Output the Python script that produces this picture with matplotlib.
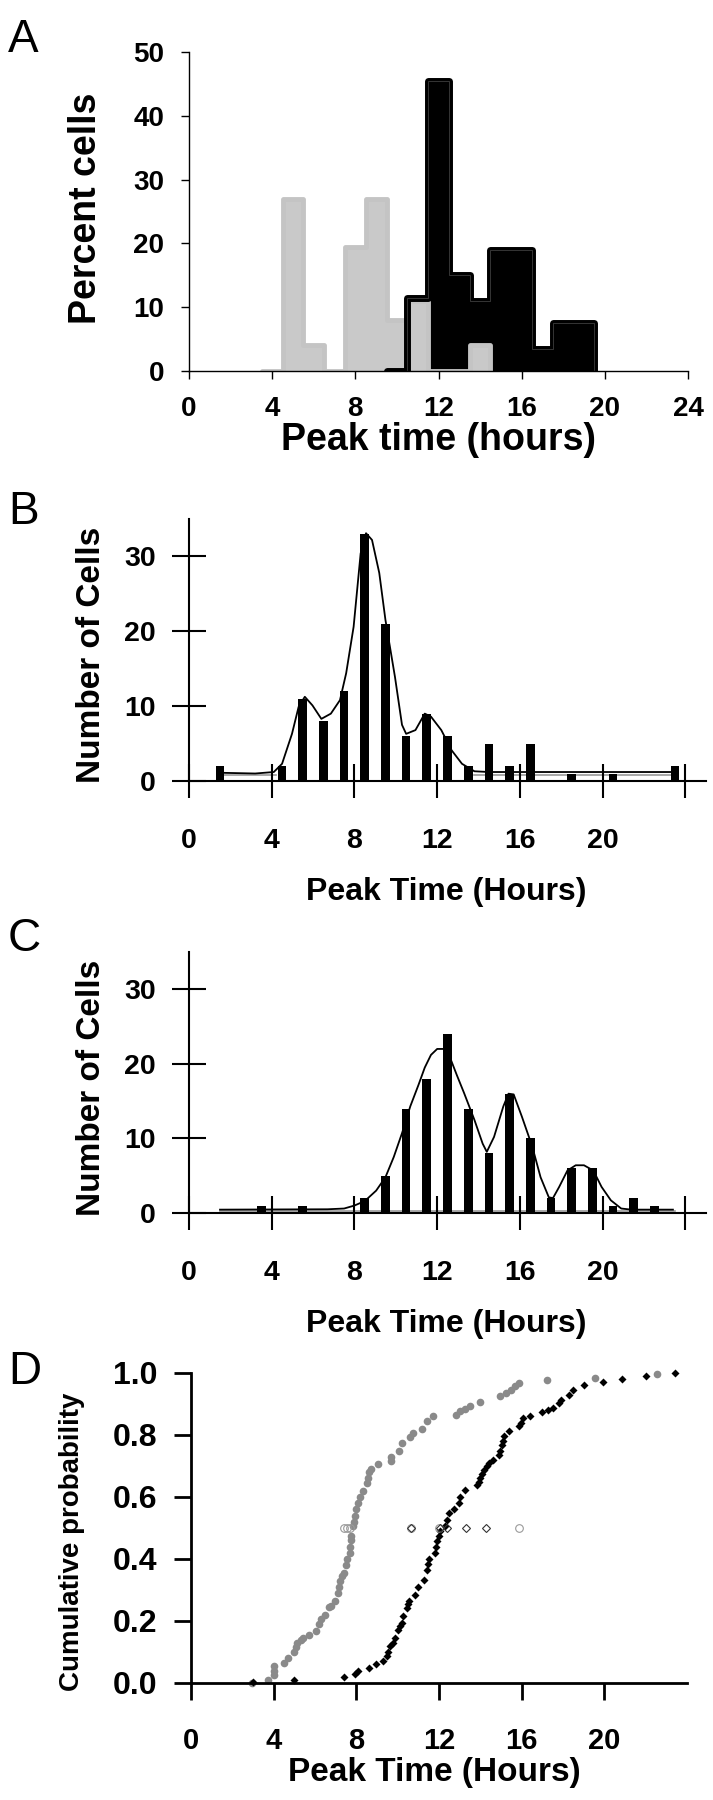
import numpy as np
import matplotlib
matplotlib.use("Agg")
import matplotlib.pyplot as plt

plt.rcParams['font.family'] = ['Liberation Sans', 'DejaVu Sans']
plt.rcParams['font.weight'] = 'bold'
plt.rcParams['axes.labelweight'] = 'bold'

# ---- panel A: percent of cells per 1 h bin ----
gray_edges = [3.5, 4.5, 5.5, 6.5, 7.5, 8.5, 9.5, 10.5, 11.5, 12.5, 13.5, 14.5]
gray_pct = [0, 27, 4, 0, 19.5, 27, 8, 11, 0, 0, 4]
black_edges = [9.5, 10.5, 11.5, 12.5, 13.5, 14.5, 15.5, 16.5, 17.5, 18.5, 19.5]
black_pct = [0, 11.5, 45.5, 15, 11, 19, 19, 3.5, 7.5, 7.5]

# ---- panel B: counts and fitted curve ----
b_pos = [1.5, 4.5, 5.5, 6.5, 7.5, 8.5, 9.5, 10.5, 11.5, 12.5, 13.5, 14.5, 15.5, 16.5, 18.5, 20.5, 23.5]
b_cnt = [2, 2, 11, 8, 12, 33, 21, 6, 9, 6, 2, 5, 2, 5, 1, 1, 2]
b_curve = [(1.5, 1.1), (3.2, 1.0), (4.1, 1.2), (4.5, 2.3), (4.98, 6.3), (5.3, 9.9),
           (5.6, 11.25), (5.97, 10.1), (6.4, 8.3), (6.86, 9.0), (7.3, 10.8), (7.6, 14.4),
           (7.96, 20.6), (8.3, 30.4), (8.56, 33.1), (8.85, 32.2), (9.2, 27.8), (9.5, 21.5),
           (9.96, 13.9), (10.3, 7.5), (10.5, 6.3), (10.95, 6.8), (11.4, 9.0), (11.7, 8.6),
           (12.2, 6.8), (12.7, 4.1), (13.2, 2.3), (13.8, 1.3), (14.5, 1.2), (23.45, 1.2)]
b_base = [(1.5, 0.85), (4.2, 0.85), (np.nan, np.nan), (13.8, 0.85), (23.45, 0.85)]

# ---- panel C ----
c_pos = [3.5, 5.5, 8.5, 9.5, 10.5, 11.5, 12.5, 13.5, 14.5, 15.5, 16.5, 17.5, 18.5, 19.5, 20.5, 21.5, 22.5]
c_cnt = [1, 1, 2, 5, 14, 18, 24, 14, 8, 16, 10, 2, 6, 6, 1, 2, 1]
c_curve = [(1.5, 0.45), (6.7, 0.5), (7.5, 0.6), (8.0, 1.0), (8.5, 1.6), (9.05, 3.0),
           (9.5, 4.8), (9.9, 7.5), (10.3, 10.7), (10.7, 14.3), (11.1, 17.2), (11.4, 19.5),
           (11.7, 21.2), (12.0, 22.0), (12.3, 22.0), (12.6, 21.0), (12.95, 18.5), (13.3, 16.1),
           (13.8, 12.5), (14.2, 9.3), (14.4, 8.2), (14.75, 10.2), (15.2, 14.3), (15.45, 16.0),
           (15.7, 15.9), (16.1, 12.9), (16.6, 8.9), (17.0, 4.8), (17.4, 2.1), (17.6, 2.0),
           (17.9, 3.5), (18.3, 5.7), (18.7, 6.4), (19.1, 6.4), (19.55, 5.7), (19.95, 3.5),
           (20.4, 1.7), (20.9, 0.6), (21.4, 0.45), (23.4, 0.45)]
c_base = [(1.5, 0.25), (23.5, 0.25)]

# ---- panel D: cumulative probability ----
gray_pts = [(2.96, 0.0), (3.72, 0.01), (4.0, 0.025), (4.0, 0.04), (4.0, 0.055), (4.5, 0.065),
            (4.7, 0.08), (5.0, 0.1), (5.1, 0.115), (5.15, 0.13), (5.3, 0.14), (5.4, 0.145),
            (5.7, 0.155), (6.05, 0.167), (6.2, 0.19), (6.3, 0.205), (6.5, 0.22), (6.7, 0.245),
            (6.75, 0.25), (6.95, 0.265), (7.1, 0.29), (7.15, 0.31), (7.2, 0.33), (7.3, 0.345),
            (7.4, 0.355), (7.5, 0.38), (7.55, 0.4), (7.67, 0.42), (7.7, 0.44), (7.72, 0.46),
            (7.75, 0.475), (7.84, 0.505), (7.9, 0.52), (7.95, 0.54), (8.0, 0.56), (8.08, 0.58),
            (8.16, 0.6), (8.33, 0.62), (8.5, 0.645), (8.55, 0.66), (8.6, 0.68), (8.73, 0.69),
            (9.06, 0.705), (9.67, 0.715), (9.67, 0.73), (10.06, 0.75), (10.2, 0.775),
            (10.6, 0.795), (10.76, 0.805), (11.2, 0.82), (11.4, 0.845), (11.7, 0.86),
            (12.8, 0.866), (13.04, 0.876), (13.28, 0.884), (13.48, 0.892), (13.98, 0.908),
            (14.96, 0.927), (15.24, 0.935), (15.48, 0.944), (15.7, 0.957), (15.85, 0.968),
            (17.24, 0.976), (19.55, 0.984), (22.55, 0.998)]
black_pts = [(3.0, 0.002), (4.96, 0.009), (7.38, 0.018), (7.95, 0.03), (8.08, 0.038),
             (8.6, 0.048), (8.93, 0.06), (9.3, 0.07), (9.5, 0.086), (9.55, 0.1), (9.63, 0.118),
             (9.75, 0.13), (9.87, 0.145), (10.0, 0.172), (10.1, 0.185), (10.2, 0.194),
             (10.28, 0.215), (10.44, 0.242), (10.5, 0.255), (10.57, 0.263), (10.85, 0.285),
             (11.0, 0.31), (11.25, 0.333), (11.4, 0.365), (11.45, 0.385), (11.5, 0.4),
             (11.8, 0.42), (11.85, 0.44), (11.9, 0.457), (12.0, 0.475), (12.07, 0.49),
             (12.3, 0.505), (12.4, 0.525), (12.47, 0.548), (12.72, 0.56), (12.96, 0.58),
             (13.04, 0.6), (13.28, 0.624), (13.85, 0.64), (13.95, 0.65), (14.0, 0.66),
             (14.1, 0.675), (14.18, 0.688), (14.3, 0.7), (14.42, 0.71), (14.59, 0.72),
             (14.9, 0.737), (14.95, 0.75), (15.04, 0.769), (15.1, 0.78), (15.15, 0.796),
             (15.4, 0.812), (15.89, 0.828), (15.95, 0.84), (16.05, 0.855), (16.4, 0.862),
             (17.0, 0.873), (17.27, 0.882), (17.5, 0.887), (17.8, 0.903), (17.9, 0.914),
             (18.3, 0.93), (18.5, 0.944), (19.0, 0.96), (19.95, 0.97), (20.85, 0.98),
             (22.03, 0.99), (23.4, 1.0)]
gray_open_x = [7.4, 7.55, 7.7, 10.65, 12.0, 15.85]
black_open_x = [10.65, 12.05, 12.4, 13.3, 14.25]

hour_ticks = [0, 4, 8, 12, 16, 20, 24]
hour_labels = ['0', '4', '8', '12', '16', '20', '']

fig = plt.figure(figsize=(7.13, 18), dpi=100)


def frac(left, top, right, bottom):
    # pixel box -> figure fraction rect
    return [left / 713, 1 - bottom / 1800, (right - left) / 713, (bottom - top) / 1800]


def clean(ax, lw):
    ax.spines['top'].set_visible(False)
    ax.spines['right'].set_visible(False)
    ax.spines['left'].set_linewidth(lw)
    ax.spines['bottom'].set_linewidth(lw)


# ---------- A ----------
axA = fig.add_axes(frac(189, 52, 688, 371))
clean(axA, 1.0)
axA.stairs(black_pct, black_edges, baseline=0, fill=True, color='black', lw=0)
axA.stairs(gray_pct, gray_edges, baseline=0, fill=True, color='#c9c9c9', lw=0)
axA.stairs(gray_pct, gray_edges, baseline=0, fill=False, color='#c4c4c4', lw=3.5,
           joinstyle='round', capstyle='round')
axA.stairs(black_pct, black_edges, baseline=0, fill=False, color='black', lw=5,
           joinstyle='round', capstyle='round')
axA.stairs(black_pct, black_edges, baseline=0, fill=False, color='#4a4a4a', lw=0.5)
axA.set_xlim(0, 24)
axA.set_ylim(0, 50)
axA.set_xticks(hour_ticks)
axA.set_yticks([0, 10, 20, 30, 40, 50])
axA.tick_params(direction='out', length=6, width=1, labelsize=20, pad=12)
axA.tick_params(axis='x', pad=12)
axA.set_xlabel('Peak time (hours)', fontsize=27, va='center')
axA.xaxis.set_label_coords(0.5, -0.215)
axA.set_ylabel('Percent cells', fontsize=27, va='center')
axA.yaxis.set_label_coords(-0.206, 0.511)

# ---------- B and C ----------
for rect, pos, cnt, curve, base in [((189, 519, 706, 781), b_pos, b_cnt, b_curve, b_base),
                                    ((189, 952, 706, 1213), c_pos, c_cnt, c_curve, c_base)]:
    ax = fig.add_axes(frac(*rect))
    clean(ax, 1.5)
    ax.bar(pos, cnt, width=0.42, color='black', zorder=2)
    bx, by = np.array(base).T
    ax.plot(bx, by, color='#9a9a9a', lw=1.2, zorder=1)
    cx, cy = np.array(curve).T
    ax.plot(cx, cy, color='black', lw=1.3, zorder=3)
    ax.set_xlim(0, 25)
    ax.set_ylim(0, 35)
    ax.set_xticks(hour_ticks, hour_labels)
    ax.set_yticks([0, 10, 20, 30])
    ax.tick_params(direction='inout', length=24, width=1.5, labelsize=20.5)
    ax.tick_params(axis='y', pad=12)
    ax.tick_params(axis='x', pad=22)
    ax.set_xlabel('Peak Time (Hours)', fontsize=23, va='center')
    ax.xaxis.set_label_coords(0.497, -0.425)
    ax.set_ylabel('Number of Cells', fontsize=24, va='center')
    ax.yaxis.set_label_coords(-0.188, 0.48)

# ---------- D ----------
axD = fig.add_axes(frac(191, 1373, 687, 1683))
clean(axD, 2.0)
gx, gy = np.array(gray_pts).T
kx, ky = np.array(black_pts).T
axD.plot(gx, gy, 'o', color='#8a8a8a', ms=5.5, mec='none', clip_on=False)
axD.plot(kx, ky, 'D', color='black', ms=4, mec='none', clip_on=False)
axD.plot(gray_open_x, [0.5] * len(gray_open_x), 'o', mfc='none', mec='#9a9a9a',
         ms=5.5, mew=0.8)
axD.plot(black_open_x, [0.5] * len(black_open_x), 'D', mfc='none', mec='#333333',
         ms=3.8, mew=0.8)
axD.set_xlim(0, 24)
axD.set_ylim(0, 1.0)
axD.set_xticks([0, 4, 8, 12, 16, 20])
axD.set_yticks([0.0, 0.2, 0.4, 0.6, 0.8, 1.0], ['0.0', '0.2', '0.4', '0.6', '0.8', '1.0'])
axD.tick_params(direction='out', length=12, width=2, labelsize=23)
axD.tick_params(axis='y', pad=12)
axD.tick_params(axis='x', labelsize=21, pad=20)
axD.set_xlabel('Peak Time (Hours)', fontsize=24, va='center')
axD.xaxis.set_label_coords(0.49, -0.29)
axD.set_ylabel('Cumulative probability', fontsize=20, va='center')
axD.yaxis.set_label_coords(-0.24, 0.455)

# panel letters
for letter, top in [('A', 18), ('B', 490), ('C', 917), ('D', 1350)]:
    fig.text(8 / 713, 1 - top / 1800, letter, fontsize=33, fontweight='normal',
             ha='left', va='top')

fig.savefig('out.png', dpi=100)
